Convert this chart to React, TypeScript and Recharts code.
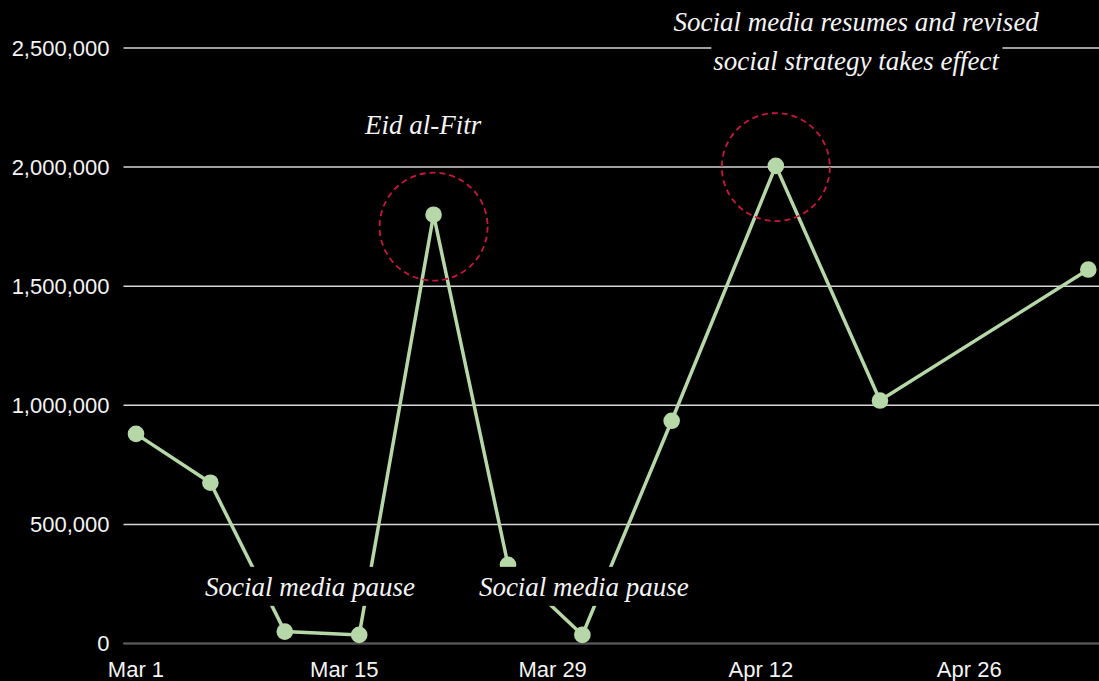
import React, { useLayoutEffect, useRef, useState } from 'react';
import { LineChart, Line, XAxis, YAxis, CartesianGrid, ReferenceDot } from 'recharts';

// weekly-ish reach numbers
const DATES = [
    '2026-03-01', '2026-03-06', '2026-03-11', '2026-03-16', '2026-03-21', '2026-03-26',
    '2026-03-31', '2026-04-06', '2026-04-13', '2026-04-20', '2026-05-04',
];
const REACH = [880000, 675000, 50000, 36000, 1800000, 330000, 36000, 935000, 2005000, 1020000, 1570000];

const TICK_DATES = ['2026-03-01', '2026-03-15', '2026-03-29', '2026-04-12', '2026-04-26'];
const TICK_LABELS = ['Mar 1', 'Mar 15', 'Mar 29', 'Apr 12', 'Apr 26'];
const Y_TICKS = [0, 500000, 1000000, 1500000, 2000000, 2500000];

// highlighted peaks (dashed circles)
const HIGHLIGHT_DATES = ['2026-03-21', '2026-04-13'];
const HIGHLIGHT_VALUES = [1750000, 2000000];

// annotations, anchored at the text baseline centre
const NOTE_TEXTS = [
    ['Eid al-Fitr'],
    ['Social media pause'],
    ['Social media pause'],
    ['Social media resumes and revised', 'social strategy takes effect'],
];
const NOTE_DAYS = [19.3, 11.7, 30.1, 48.4];
const NOTE_VALUES = [2140000, 200000, 200000, 2570000];

const START = Date.UTC(2026, 2, 1);
const toDay = (iso: string) => {
    const [y, m, d] = iso.split('-').map(Number);
    return Math.round((Date.UTC(y, m - 1, d) - START) / 86400000);
};

const data = DATES.map((d, i) => ({ day: toDay(d), reach: REACH[i] }));
const tickDays = TICK_DATES.map(toDay);

const GREEN = '#b6d7a8';
const TEXT = '#f4f4f4';
const SANS = '"Liberation Sans", Arial, sans-serif';
const SERIF = '"Liberation Serif", "Times New Roman", serif';

const Note = ({ cx, cy, lines }: { cx?: number; cy?: number; lines: string[] }) => {
    const refs = useRef<(SVGTextElement | null)[]>([]);
    const [boxes, setBoxes] = useState<(DOMRect | null)[]>([]);

    useLayoutEffect(() => {
        setBoxes(refs.current.map(t => (t ? t.getBBox() : null)));
    }, [cx, cy]);

    if (cx == null || cy == null) return null;
    return (
        <g>
            {lines.map((line, i) => {
                const b = boxes[i];
                return (
                    <g key={i}>
                        {b && <rect x={b.x - 2} y={b.y - 5} width={b.width + 4} height={b.height + 9} fill="#000" />}
                        <text
                            ref={el => { refs.current[i] = el; }}
                            x={cx}
                            y={cy + i * 38.5}
                            textAnchor="middle"
                            fill={TEXT}
                            fontFamily={SERIF}
                            fontStyle="italic"
                            fontSize={27}
                        >
                            {line}
                        </text>
                    </g>
                );
            })}
        </g>
    );
};

const App: React.FC = () => {
    return (
        <div style={{ position: 'absolute', left: 0, top: 0, width: 1099, height: 681, background: '#000' }}>
            <LineChart width={1099} height={681} data={data} margin={{ top: 48, right: 0, bottom: 0, left: 0 }}>
                <CartesianGrid vertical={false} stroke="#d6d6d6" strokeWidth={1.5} />
                <XAxis
                    dataKey="day"
                    type="number"
                    domain={[-0.84, 64.72]}
                    allowDataOverflow
                    ticks={tickDays}
                    tickFormatter={(v: number) => TICK_LABELS[tickDays.indexOf(v)] ?? ''}
                    height={37.5}
                    tickLine={false}
                    tickSize={0}
                    tickMargin={18}
                    axisLine={{ stroke: '#555', strokeWidth: 1.5 }}
                    tick={{ fill: TEXT, fontSize: 22, fontFamily: SANS }}
                    interval={0}
                />
                <YAxis
                    type="number"
                    domain={[0, 2500000]}
                    ticks={Y_TICKS}
                    width={123.5}
                    axisLine={false}
                    tickLine={false}
                    tickSize={0}
                    tickMargin={14}
                    tickFormatter={(v: number) => v.toLocaleString('en-US')}
                    tick={{ fill: TEXT, fontSize: 22, fontFamily: SANS }}
                    interval={0}
                />
                <Line
                    type="linear"
                    dataKey="reach"
                    stroke={GREEN}
                    strokeWidth={3.5}
                    dot={{ r: 8.3, fill: GREEN, stroke: 'none' }}
                    activeDot={false}
                    isAnimationActive={false}
                />
                {HIGHLIGHT_DATES.map((d, i) => (
                    <ReferenceDot
                        key={`hl-${i}`}
                        x={toDay(d)}
                        y={HIGHLIGHT_VALUES[i]}
                        r={54}
                        fill="none"
                        stroke="#c8173c"
                        strokeWidth={1.8}
                        strokeDasharray="6 4"
                        ifOverflow="visible"
                        zIndex={2400}
                    />
                ))}
                {NOTE_TEXTS.map((lines, i) => (
                    <ReferenceDot
                        key={`note-${i}`}
                        x={NOTE_DAYS[i]}
                        y={NOTE_VALUES[i]}
                        r={0}
                        ifOverflow="visible"
                        zIndex={2500}
                        shape={(p: any) => <Note cx={p.cx} cy={p.cy} lines={lines} />}
                    />
                ))}
            </LineChart>
        </div>
    );
};

export default App;
